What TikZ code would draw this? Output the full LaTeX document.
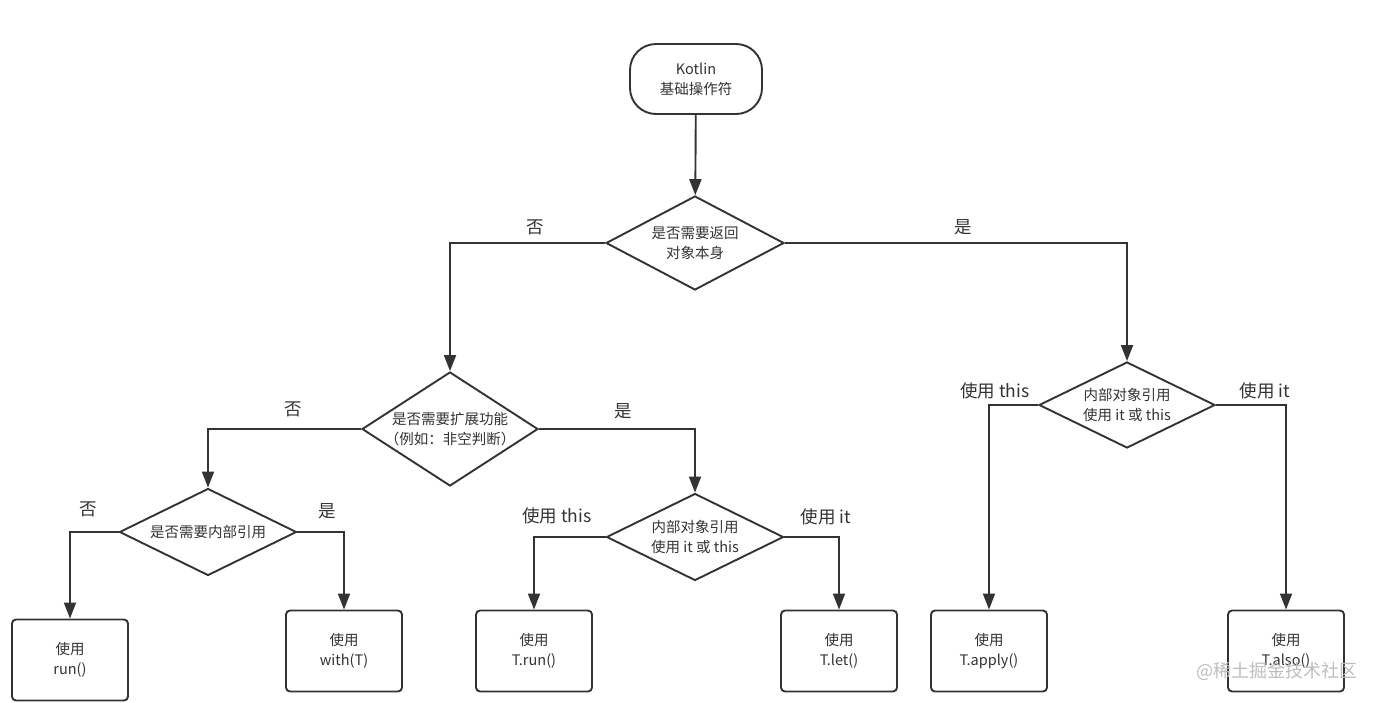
\documentclass[tikz,border=0pt]{standalone}
\usepackage{fontspec}
\setmainfont{Noto Sans CJK SC}
\usetikzlibrary{shapes.geometric,arrows.meta}
\definecolor{ln}{HTML}{333333}
\definecolor{wm}{HTML}{BDBDBD}
\begin{document}
\begin{tikzpicture}[x=1pt,y=-1pt,
  base/.style={draw=ln,line width=1.9pt,text=ln,font=\fontsize{14.5}{20}\selectfont,align=center,inner sep=0pt},
  startbox/.style={base,rounded corners=26pt,minimum width=132pt,minimum height=70pt},
  decision/.style={base,diamond,aspect=1.9},
  dtext/.style={text=ln,font=\fontsize{14.5}{20}\selectfont,align=center,inner sep=0pt},
  resultbox/.style={base,rounded corners=4pt,minimum width=116pt,minimum height=81pt},
  arr/.style={draw=ln,line width=1.9pt,-{Triangle[length=16pt,width=12pt]}},
  lab/.style={text=ln,font=\fontsize{17.5}{20}\selectfont,inner sep=0pt}
]
\useasboundingbox (0,0) rectangle (1378,702);

\node[startbox] (start) at (696,79) {Kotlin\\基础操作符};

\node[decision,minimum width=178pt,minimum height=94pt,label={[dtext]center:是否需要返回\\对象本身}] (d1) at (695,243) {};
\node[decision,minimum width=176pt,minimum height=114pt,label={[dtext]center:是否需要扩展功能\\（例如：非空判断）}] (d2) at (450,429) {};
\node[decision,minimum width=176pt,minimum height=86pt,label={[dtext]center:内部对象引用\\使用 it 或 this}] (d3) at (1127,405) {};
\node[decision,minimum width=177pt,minimum height=87pt,label={[dtext]center:是否需要内部引用}] (d4) at (208,532) {};
\node[decision,minimum width=177pt,minimum height=87pt,label={[dtext]center:内部对象引用\\使用 it 或 this}] (d5) at (695,537) {};

\node[resultbox] (run) at (70,660) {使用\\run()};
\node[resultbox] (with) at (344,651) {使用\\with(T)};
\node[resultbox] (trun) at (534,651) {使用\\T.run()};
\node[resultbox] (tlet) at (839,651) {使用\\T.let()};
\node[resultbox] (tapply) at (989,651) {使用\\T.apply()};
\node[resultbox] (talso) at (1286,651) {使用\\T.also()};

\draw[arr] (start) -- (d1);
\draw[arr] (d1.west) -| (d2.north);
\draw[arr] (d1.east) -| (d3.north);
\draw[arr] (d2.west) -| (d4.north);
\draw[arr] (d2.east) -| (d5.north);
\draw[arr] (d4.west) -| (run.north);
\draw[arr] (d4.east) -| (with.north);
\draw[arr] (d5.west) -| (trun.north);
\draw[arr] (d5.east) -| (tlet.north);
\draw[arr] (d3.west) -| (tapply.north);
\draw[arr] (d3.east) -| (talso.north);

\node[lab] (l1) at (535,227) {否};
\node[lab] (l2) at (963,227) {是};
\node[lab] (l3) at (293,409) {否};
\node[lab] (l4) at (623,411) {是};
\node[lab] (l5) at (88,509) {否};
\node[lab] (l6) at (327,511) {是};
\node[lab] (l7) at (557,516) {使用 this};
\node[lab] (l8) at (826,517) {使用 it};
\node[lab] (l9) at (995,391) {使用 this};
\node[lab] (l10) at (1265,391) {使用 it};

\node[text=wm,font=\fontsize{18}{20}\selectfont,inner sep=0pt] (wmark) at (1277,671) {@稀土掘金技术社区};
\end{tikzpicture}
\end{document}
